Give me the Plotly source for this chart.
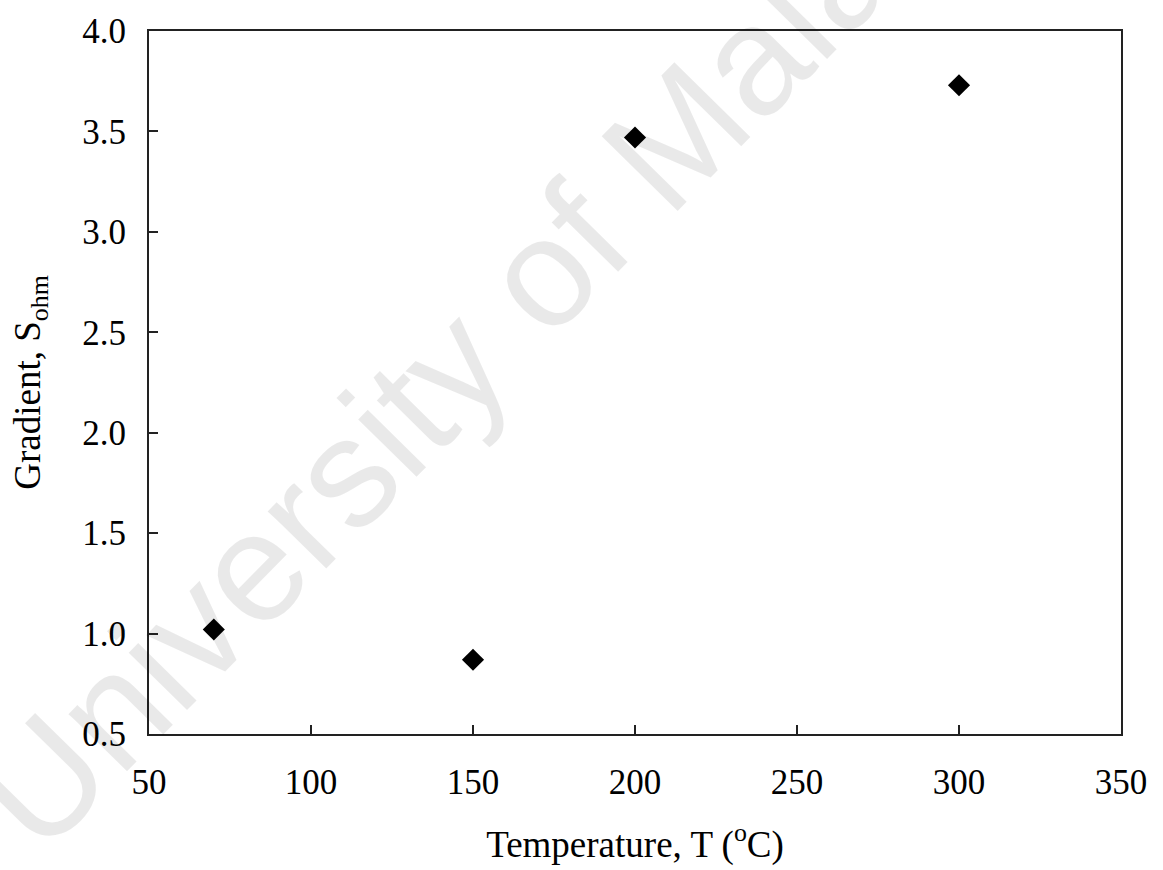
import plotly.graph_objects as go

temperature = [70, 150, 200, 300]
gradient = [1.02, 0.87, 3.47, 3.73]

x_ticks = [50, 100, 150, 200, 250, 300, 350]
y_ticks = [0.5, 1.0, 1.5, 2.0, 2.5, 3.0, 3.5, 4.0]

fig = go.Figure()
fig.add_trace(go.Scatter(
    x=temperature, y=gradient, mode="markers",
    marker=dict(symbol="diamond", size=17, color="black"),
    showlegend=False,
))

font_family = "Liberation Serif"
fig.update_layout(
    width=1163, height=870,
    margin=dict(l=149, r=42, t=28, b=135),
    paper_bgcolor="white", plot_bgcolor="white",
    font=dict(family=font_family, size=35, color="black"),
    xaxis=dict(
        range=[50, 350], tickvals=x_ticks, ticktext=[str(v) for v in x_ticks],
        ticks="inside", ticklen=9, tickwidth=2, tickcolor="#222",
        showline=True, linecolor="#222", linewidth=2, mirror=True,
        showgrid=False, zeroline=False, ticklabelstandoff=16,
        title=dict(text="Temperature, T (<sup>o</sup>C)", font=dict(size=37), standoff=30),
    ),
    yaxis=dict(
        range=[0.5, 4.0], tickvals=y_ticks, ticktext=[f"{v:.1f}" for v in y_ticks],
        ticks="inside", ticklen=9, tickwidth=2, tickcolor="#222",
        showline=True, linecolor="#222", linewidth=2, mirror=True,
        showgrid=False, zeroline=False, ticklabelstandoff=14,
        title=dict(text="Gradient, S<sub>ohm</sub>", font=dict(size=37), standoff=30),
    ),
    annotations=[dict(
        text="University of Malaya", xref="paper", yref="paper",
        x=0.353, y=0.584, xanchor="center", yanchor="middle",
        showarrow=False, textangle=-45.5,
        font=dict(family="Liberation Sans", size=155, color="rgba(0,0,0,0.085)"),
    )],
)

fig.write_html("out.html")
